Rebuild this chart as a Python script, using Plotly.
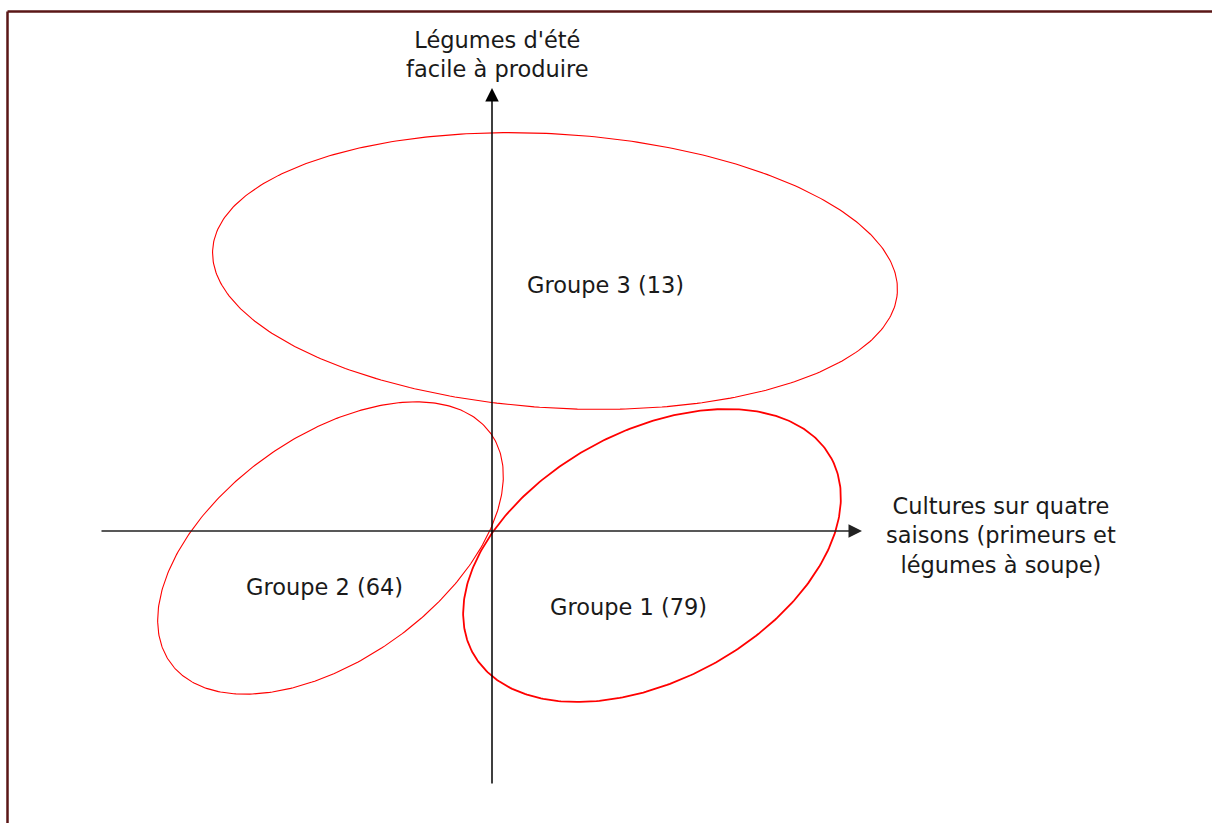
import numpy as np
import plotly.graph_objects as go

# Ellipse parameters (data units: factorial plane)
groups = ["Groupe 1 (79)", "Groupe 2 (64)", "Groupe 3 (13)"]
centers_x = [1.60, -1.615, 0.63]
centers_y = [-0.245, -0.17, 2.60]
semi_major = [2.04, 1.97, 3.43]
semi_minor = [1.245, 1.115, 1.37]
angles_deg = [28.5, 35.6, -3.6]
line_widths = [1.8, 1.1, 1.1]
label_x = [1.36, -1.68, 1.13]
label_y = [-0.76, -0.56, 2.46]

axis_x_title = "Cultures sur quatre<br>saisons (primeurs et<br>légumes à soupe)"
axis_y_title = "Légumes d'été<br>facile à produire"
x_axis_span = [-3.92, 3.70]
y_axis_span = [-2.54, 4.43]

fig = go.Figure()
t = np.linspace(0, 2 * np.pi, 400)
for cx, cy, a, b, ang, lw in zip(centers_x, centers_y, semi_major, semi_minor, angles_deg, line_widths):
    th = np.deg2rad(ang)
    xs = cx + a * np.cos(t) * np.cos(th) - b * np.sin(t) * np.sin(th)
    ys = cy + a * np.cos(t) * np.sin(th) + b * np.sin(t) * np.cos(th)
    fig.add_trace(go.Scatter(x=xs, y=ys, mode="lines", line=dict(color="#ff0000", width=lw),
                             hoverinfo="skip", showlegend=False))

font = dict(family="DejaVu Sans", size=22.5, color="#1a1a1a")
for name, lx, ly in zip(groups, label_x, label_y):
    fig.add_annotation(x=lx, y=ly, text=name, showarrow=False, font=font)

# axes arrows
fig.add_annotation(x=x_axis_span[1], y=0, ax=x_axis_span[0], ay=0, axref="x", ayref="y",
                   text="", showarrow=True, arrowhead=2, arrowsize=1.8, arrowwidth=1.5,
                   arrowcolor="#222222", standoff=0, startstandoff=0)
fig.add_annotation(x=0, y=y_axis_span[1], ax=0, ay=y_axis_span[0], axref="x", ayref="y",
                   text="", showarrow=True, arrowhead=2, arrowsize=1.8, arrowwidth=1.5,
                   arrowcolor="#000000", standoff=0, startstandoff=0)

fig.add_annotation(x=5.085, y=-0.04, text=axis_x_title, showarrow=False, font=font)
fig.add_annotation(x=0.05, y=4.77, text=axis_y_title, showarrow=False, font=font)

# frame
fig.add_shape(type="line", xref="paper", yref="paper", x0=7.5 / 1212, x1=1.0,
              y0=1 - 11.5 / 823, y1=1 - 11.5 / 823, line=dict(color="#5a1616", width=2.5))
fig.add_shape(type="line", xref="paper", yref="paper", x0=7.5 / 1212, x1=7.5 / 1212,
              y0=0, y1=1 - 11.5 / 823, line=dict(color="#5a1616", width=2.5))

fig.update_layout(
    width=1212, height=823,
    margin=dict(l=0, r=0, t=0, b=0),
    paper_bgcolor="white", plot_bgcolor="white",
    xaxis=dict(range=[-4.92, 7.20], visible=False, fixedrange=True),
    yaxis=dict(range=[-2.92, 5.31], visible=False, fixedrange=True),
)
fig.write_html("out.html", config={"displayModeBar": False},
               post_script="document.body.style.margin='0';")
